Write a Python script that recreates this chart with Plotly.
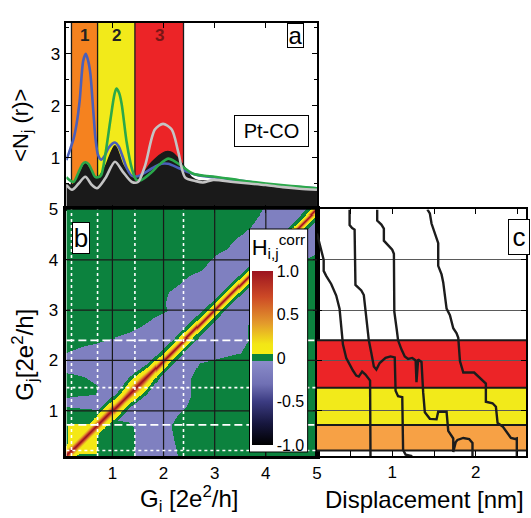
import numpy as np
import plotly.graph_objects as go

W, H = 531, 518
FONT = "Liberation Sans, Arial, Helvetica, sans-serif"


def fx(p):
    """pixel column -> paper x"""
    return p / W


def fy(p):
    """pixel row -> paper y"""
    return 1 - p / H


# ---------------- panel a: <N_j(r)> versus G ----------------
blue_g = [0.10, 0.17, 0.24, 0.30, 0.36, 0.43, 0.48, 0.53, 0.57, 0.63, 0.67, 0.72, 0.78, 0.84,
          0.92, 1.00, 1.05, 1.12, 1.20, 1.28, 1.38, 1.50, 1.62, 1.77, 1.96, 2.09, 2.29, 2.45,
          2.60, 2.80, 3.00, 3.30, 3.70, 4.00, 4.30, 4.65, 5.00]
blue_n = [0.95, 1.15, 1.36, 1.65, 2.10, 2.87, 3.00, 2.85, 2.61, 1.85, 1.36, 1.05, 0.96, 1.02,
          1.18, 1.27, 1.29, 1.22, 1.02, 0.80, 0.65, 0.64, 0.70, 0.79, 0.88, 0.88, 0.80, 0.73,
          0.68, 0.64, 0.62, 0.58, 0.53, 0.48, 0.45, 0.43, 0.41]

green_g = [0.10, 0.17, 0.24, 0.34, 0.42, 0.47, 0.53, 0.60, 0.66, 0.72, 0.78, 0.86, 0.96, 1.04,
           1.08, 1.13, 1.18, 1.28, 1.38, 1.47, 1.57, 1.77, 1.90, 2.09, 2.25, 2.42, 2.58, 2.80,
           3.00, 3.50, 4.00, 4.50, 5.00]
green_n = [0.62, 0.56, 0.53, 0.72, 0.88, 0.91, 0.88, 0.75, 0.63, 0.62, 0.66, 1.05, 1.72, 2.22,
           2.33, 2.25, 2.04, 1.29, 0.79, 0.57, 0.57, 0.72, 0.85, 0.98, 0.91, 0.79, 0.69, 0.65,
           0.63, 0.56, 0.50, 0.45, 0.41]

gray_g = [0.10, 0.21, 0.34, 0.47, 0.60, 0.70, 0.86, 1.05, 1.21, 1.38, 1.50, 1.64, 1.83, 1.99,
          2.16, 2.29, 2.42, 2.62, 2.77, 2.97, 3.36, 3.68, 4.00, 4.33, 4.66, 5.00]
gray_n = [0.47, 0.38, 0.50, 0.63, 0.47, 0.41, 0.60, 0.92, 0.72, 0.53, 0.53, 0.85, 1.54, 1.65,
          1.54, 1.10, 0.62, 0.55, 0.52, 0.57, 0.53, 0.50, 0.47, 0.43, 0.40, 0.38]

black_g = [0.10, 0.21, 0.34, 0.47, 0.57, 0.66, 0.76, 0.86, 1.05, 1.21, 1.41, 1.57, 1.77, 2.03,
           2.16, 2.29, 2.42, 2.55, 2.70, 3.00, 3.50, 4.00, 4.50, 5.00]
black_n = [0.50, 0.47, 0.65, 0.88, 0.75, 0.60, 0.66, 0.82, 1.23, 0.85, 0.60, 0.66, 0.91, 1.11,
           1.10, 0.98, 0.80, 0.62, 0.55, 0.56, 0.52, 0.48, 0.43, 0.39]

# conductance windows 1, 2, 3
band_edges_i = [0.20, 0.71, 1.44, 2.39]
band_edges_j = [0.21, 0.72, 1.46, 2.40]
band_names = ["1", "2", "3"]

# ---------------- panel b: correlation map ----------------
# outline of the weakly anti-correlated region (G_i, G_j)
lav_gi = [3.95, 3.70, 3.40, 3.25, 3.00, 2.75, 2.50, 2.30, 2.10, 2.03, 2.08, 1.85, 1.58, 1.33,
          1.10, 0.70, 0.40, 0.20, 0.10, 0.10, 0.45, 0.72, 0.68, 0.40, 0.10, 0.10, 0.45, 0.75,
          0.92, 1.10, 1.30, 1.42, 1.45, 1.45, 2.28, 2.20, 2.15, 2.28, 2.45, 2.55, 2.55, 2.70,
          3.10, 3.50, 3.65, 3.65, 3.75, 3.95, 4.25, 4.60, 5.00, 5.00]
lav_gj = [5.00, 4.65, 4.40, 4.22, 4.08, 3.80, 3.67, 3.50, 3.35, 3.12, 2.98, 2.86, 2.67, 2.55,
          2.47, 2.35, 2.28, 2.20, 2.15, 1.76, 1.68, 1.50, 1.32, 1.30, 1.26, 1.08, 1.04, 1.02,
          0.90, 0.80, 0.78, 0.68, 0.40, 0.10, 0.10, 0.45, 0.70, 0.92, 1.08, 1.30, 1.65, 1.95,
          2.05, 2.15, 2.40, 2.70, 3.00, 3.30, 3.62, 3.92, 4.12, 5.00]
lav_level = -0.15

# diagonal ridge: half width along G_i and its cross profile
ridge_g = [0.10, 0.50, 0.80, 1.00, 1.20, 1.35, 1.50, 1.65, 1.80, 2.00, 2.50, 3.00, 4.00, 5.00]
ridge_hw = [0.20, 0.20, 0.20, 0.21, 0.18, 0.22, 0.26, 0.22, 0.17, 0.16, 0.14, 0.13, 0.12, 0.12]
profile_r = [0.0, 0.12, 0.25, 0.40, 0.60, 1.00]
profile_v = [1.00, 0.85, 0.60, 0.35, 0.15, 0.07]
ring = 0.09

# correlated block of the first window
block_gi = [0.14, 0.70]
block_gj = [0.14, 0.74]
block_level = 0.12

# ---------------- panel c: conductance traces ----------------
trace1_d = [0.10, 0.15, 0.18, 0.18, 0.21, 0.27, 0.33, 0.37, 0.385, 0.41, 0.45, 0.49, 0.53, 0.57,
            0.60, 0.64, 0.68, 0.735, 0.74]
trace1_g = [4.52, 4.20, 4.00, 3.78, 3.68, 3.52, 3.29, 3.03, 2.72, 2.32, 2.05, 1.92, 1.80, 1.70,
            1.68, 1.78, 1.72, 1.60, 0.10]
trace2_d = [0.49, 0.49, 0.52, 0.55, 0.56, 0.59, 0.63, 0.66, 0.68, 0.70, 0.72, 0.75, 0.78, 0.81,
            0.85, 0.92, 0.98, 1.03, 1.04, 1.07, 1.12, 1.13, 1.16, 1.24]
trace2_g = [5.00, 4.69, 4.63, 4.60, 3.50, 3.45, 3.39, 3.30, 3.00, 2.70, 2.40, 2.15, 1.88, 1.82,
            1.95, 2.05, 2.08, 2.06, 1.40, 1.29, 1.27, 0.22, 0.13, 0.10]
trace3_d = [0.82, 0.82, 0.87, 0.90, 0.90, 0.95, 1.00, 1.02, 1.025, 1.055, 1.07, 1.11, 1.15, 1.19,
            1.24, 1.28, 1.29, 1.31, 1.35, 1.37, 1.39, 1.45, 1.53, 1.55, 1.65, 1.67, 1.71, 1.73,
            1.73, 1.76, 1.78, 1.85, 1.92, 1.96, 1.96]
trace3_g = [5.00, 4.78, 4.70, 4.62, 4.38, 4.30, 4.20, 4.12, 2.97, 2.60, 2.40, 2.22, 2.08, 2.03,
            2.05, 2.00, 1.57, 2.02, 1.97, 1.37, 0.97, 0.84, 0.83, 0.98, 0.98, 0.60, 0.50, 0.45,
            0.18, 0.38, 0.42, 0.46, 0.44, 0.36, 0.10]
trace4_d = [1.42, 1.45, 1.47, 1.51, 1.55, 1.55, 1.59, 1.61, 1.65, 1.69, 1.73, 1.77, 1.79, 1.81,
            1.85, 1.98, 2.06, 2.12, 2.12, 2.20, 2.24, 2.26, 2.32, 2.38, 2.42, 2.47, 2.49, 2.49]
trace4_g = [5.00, 4.92, 4.72, 4.53, 4.33, 3.88, 3.71, 3.55, 3.03, 2.90, 2.64, 2.54, 2.45, 1.99,
            1.76, 1.76, 1.63, 1.54, 1.18, 1.15, 1.08, 0.76, 0.69, 0.56, 0.46, 0.44, 0.45, 0.10]

cb_vals = [-1.0, -0.5, 0.0, 0.5, 1.0]
cb_text = ["-1.0", "-0.5", "0", "0.5", "1.0"]

# ---------------- colours ----------------
C_ORANGE_A = "#f5821f"
C_ORANGE_C = "#f7a145"
C_YELLOW = "#f2ea1a"
C_RED = "#ec2427"
band_cols_a = [C_ORANGE_A, C_YELLOW, C_RED]
band_cols_c = [C_ORANGE_C, C_YELLOW, C_RED]

colorscale = [
    [0.000, "#000000"],
    [0.125, "#17173f"],
    [0.250, "#3c3c82"],
    [0.350, "#7070b4"],
    [0.480, "#8a8cc9"],
    [0.480, "#0c823e"],
    [0.525, "#0c823e"],
    [0.525, "#f5ec14"],
    [0.580, "#f3e616"],
    [0.700, "#e39a2c"],
    [0.850, "#cd4a26"],
    [1.000, "#9c1420"],
]


def inside_polygon(xx, yy, px, py):
    res = np.zeros(xx.shape, dtype=bool)
    n = len(px)
    j = n - 1
    for i in range(n):
        xi, yi, xj, yj = px[i], py[i], px[j], py[j]
        cond = ((yi > yy) != (yj > yy)) & (xx < (xj - xi) * (yy - yi) / (yj - yi + 1e-12) + xi)
        res ^= cond
        j = i
    return res


# build the map on a fine grid
g = np.arange(0.11, 5.0, 0.02)
GI, GJ = np.meshgrid(g, g)
z = np.where(inside_polygon(GI, GJ, lav_gi, lav_gj), lav_level, 0.0)

in_block = (GI >= block_gi[0]) & (GI <= block_gi[1]) & (GJ >= block_gj[0]) & (GJ <= block_gj[1])
near_block = ((GI >= block_gi[0] - 0.05) & (GI <= block_gi[1] + 0.05)
              & (GJ >= block_gj[0] - 0.05) & (GJ <= block_gj[1] + 0.05))
z[near_block] = 0.0
z[in_block] = block_level

dist = np.abs(GI - GJ)
hw = np.interp((GI + GJ) / 2, ridge_g, ridge_hw)
r = dist / hw
z[(dist < hw + ring) & ~in_block] = 0.0
core = r <= 1.0
z[core] = np.maximum(z[core], np.interp(r[core], profile_r, profile_v))

fig = go.Figure()

# panel a curves
fig.add_trace(go.Scatter(x=black_g, y=black_n, mode="lines", fill="tozeroy",
                         line=dict(color="#1a1a1a", width=1.5, shape="spline", smoothing=0.8),
                         fillcolor="#1a1a1a", xaxis="x", yaxis="y", hoverinfo="skip"))
fig.add_trace(go.Scatter(x=blue_g, y=blue_n, mode="lines",
                         line=dict(color="#4a5fba", width=2.6, shape="spline", smoothing=0.8),
                         xaxis="x", yaxis="y"))
fig.add_trace(go.Scatter(x=green_g, y=green_n, mode="lines",
                         line=dict(color="#2aa84a", width=2.6, shape="spline", smoothing=0.8),
                         xaxis="x", yaxis="y"))
fig.add_trace(go.Scatter(x=gray_g, y=gray_n, mode="lines",
                         line=dict(color="#c4c4c4", width=2.6, shape="spline", smoothing=0.8),
                         xaxis="x", yaxis="y"))

# panel b map
fig.add_trace(go.Heatmap(
    x=g, y=g, z=z, xaxis="x2", yaxis="y2", zmin=-1, zmax=1, colorscale=colorscale,
    hoverinfo="skip",
    colorbar=dict(
        x=fx(252), xanchor="left", y=fy(450), yanchor="bottom",
        lenmode="pixels", len=222, thicknessmode="pixels", thickness=21,
        bgcolor="white", bordercolor="black", borderwidth=1, outlinewidth=0,
        xpad=2, ypad=6, ticks="", tickvals=cb_vals, ticktext=cb_text,
        tickfont=dict(size=16, family=FONT, color="black"),
        title=dict(text="H<sub>i,j</sub><sup>corr</sup>", side="top",
                   font=dict(size=22, family=FONT, color="black")),
    ),
))

# panel c traces
for dd, gg in [(trace1_d, trace1_g), (trace2_d, trace2_g), (trace3_d, trace3_g), (trace4_d, trace4_g)]:
    fig.add_trace(go.Scatter(x=dd, y=gg, mode="lines", line=dict(color="#1c1c1c", width=2.4),
                             xaxis="x3", yaxis="y3", hoverinfo="skip"))

shapes = []
# panel a windows
for k in range(3):
    shapes.append(dict(type="rect", xref="x", yref="y", x0=band_edges_i[k], x1=band_edges_i[k + 1],
                       y0=0, y1=3.6, fillcolor=band_cols_a[k], line=dict(width=0), layer="below"))
for e in band_edges_i:
    shapes.append(dict(type="line", xref="x", yref="y", x0=e, x1=e, y0=0, y1=3.6,
                       line=dict(color="#1a1a1a", width=1.3), layer="below"))

# panel c windows
for k in range(3):
    shapes.append(dict(type="rect", xref="x3", yref="y3", x0=0.1, x1=2.6, y0=band_edges_j[k],
                       y1=band_edges_j[k + 1], fillcolor=band_cols_c[k], line=dict(width=0),
                       layer="below"))
for e in band_edges_j:
    shapes.append(dict(type="line", xref="x3", yref="y3", x0=0.1, x1=2.6, y0=e, y1=e,
                       line=dict(color="#1a1a1a", width=2), layer="below"))

# panel b grid and window boundaries
for v in [1, 2, 3, 4]:
    shapes.append(dict(type="line", xref="x2", yref="y2", x0=v, x1=v, y0=0.1, y1=5,
                       line=dict(color="#1a1a1a", width=1.2), layer="above"))
    shapes.append(dict(type="line", xref="x2", yref="y2", x0=0.1, x1=5, y0=v, y1=v,
                       line=dict(color="#1a1a1a", width=1.2), layer="above"))
for e in band_edges_i:
    shapes.append(dict(type="line", xref="x2", yref="y2", x0=e, x1=e, y0=0.1, y1=5,
                       line=dict(color="white", width=1.6, dash="3px,3px"), layer="above"))
for e, ds in zip(band_edges_j, ["3px,3px", "8px,4px", "3px,3px", "8px,4px"]):
    shapes.append(dict(type="line", xref="x2", yref="y2", x0=0.1, x1=5, y0=e, y1=e,
                       line=dict(color="white", width=1.6, dash=ds), layer="above"))

tf = dict(size=17, family=FONT, color="black")
common = dict(showline=True, linecolor="black", mirror="ticks", ticks="inside", tickcolor="black",
              showgrid=False, zeroline=False, tickfont=tf)


def text_at(text, cx, cy, size, angle=0, **kw):
    return dict(x=fx(cx), y=fy(cy), xref="paper", yref="paper", xanchor="center",
                yanchor="middle", text=text, textangle=angle, showarrow=False,
                font=dict(size=size, family=FONT, color=kw.pop("color", "black")), **kw)


def boxed(text, cx, cy, w, h, size):
    return text_at(text, cx, cy, size, width=w, height=h, bgcolor="white",
                   bordercolor="black", borderwidth=1, borderpad=0)


annotations = []
for k, name in enumerate(band_names):
    annotations.append(dict(
        x=(band_edges_i[k] + band_edges_i[k + 1]) / 2, y=fy(27), xref="x", yref="paper",
        xanchor="center", yanchor="middle", text="<b>%s</b>" % name, showarrow=False,
        font=dict(size=17, family=FONT, color="#7a1515" if k == 2 else "#222222")))

annotations += [
    boxed("a", 298.5, 27, 15, 23, 24),
    boxed("Pt-CO", 274.5, 124, 73, 30, 20),
    boxed("b", 81.7, 233, 16, 30, 26),
    boxed("c", 524, 232, 20, 34, 26),
    text_at("&lt;N<sub>j</sub> (r)&gt;", 22, 118, 22, angle=-90),
    text_at("G<sub>j</sub>[2e<sup>2</sup>/h]", 25, 352, 24, angle=-90),
    text_at("G<sub>i</sub> [2e<sup>2</sup>/h]", 191, 499, 24),
    text_at("Displacement [nm]", 429, 499, 24),
]

fig.update_layout(
    width=W, height=H, margin=dict(l=0, r=0, t=0, b=0),
    paper_bgcolor="white", plot_bgcolor="white", showlegend=False,
    font=dict(family=FONT, color="black"),
    xaxis=dict(common, domain=[fx(67), fx(320)], range=[0.1, 5], anchor="y",
               tickvals=[1, 2, 3, 4], showticklabels=False, linewidth=1.5, ticklen=5),
    yaxis=dict(common, domain=[fy(204), fy(14)], range=[0, 3.6], anchor="x",
               tickvals=[1, 2, 3], linewidth=1.5, ticklen=5, ticklabelstandoff=1,
               minor=dict(tickvals=[0.5, 1.5, 2.5, 3.5], ticks="inside", ticklen=3,
                          tickcolor="black")),
    xaxis2=dict(common, domain=[fx(67), fx(320)], range=[0.1, 5], anchor="y2",
                tickvals=[1, 2, 3, 4, 5], linewidth=2.5, ticklen=4, ticklabelstandoff=0),
    yaxis2=dict(common, domain=[fy(455), fy(204)], range=[0.1, 5], anchor="x2",
                tickvals=[1, 2, 3, 4, 5], linewidth=2.5, ticklen=4, ticklabelstandoff=2),
    xaxis3=dict(common, domain=[fx(320), 1.0], range=[0.1, 2.6], anchor="y3",
                tickvals=[0.5, 1, 1.5, 2, 2.5], ticktext=["", "1", "", "2", ""],
                linewidth=2, ticklen=5, ticklabelstandoff=0),
    yaxis3=dict(common, domain=[fy(455), fy(204)], range=[0.1, 5], anchor="x3",
                tickvals=[1, 2, 3, 4], showticklabels=False, showgrid=True,
                gridcolor="#5a5a5a", gridwidth=1, linewidth=2, ticklen=5),
    shapes=shapes,
    annotations=annotations,
)

fig.write_html("out.html")
